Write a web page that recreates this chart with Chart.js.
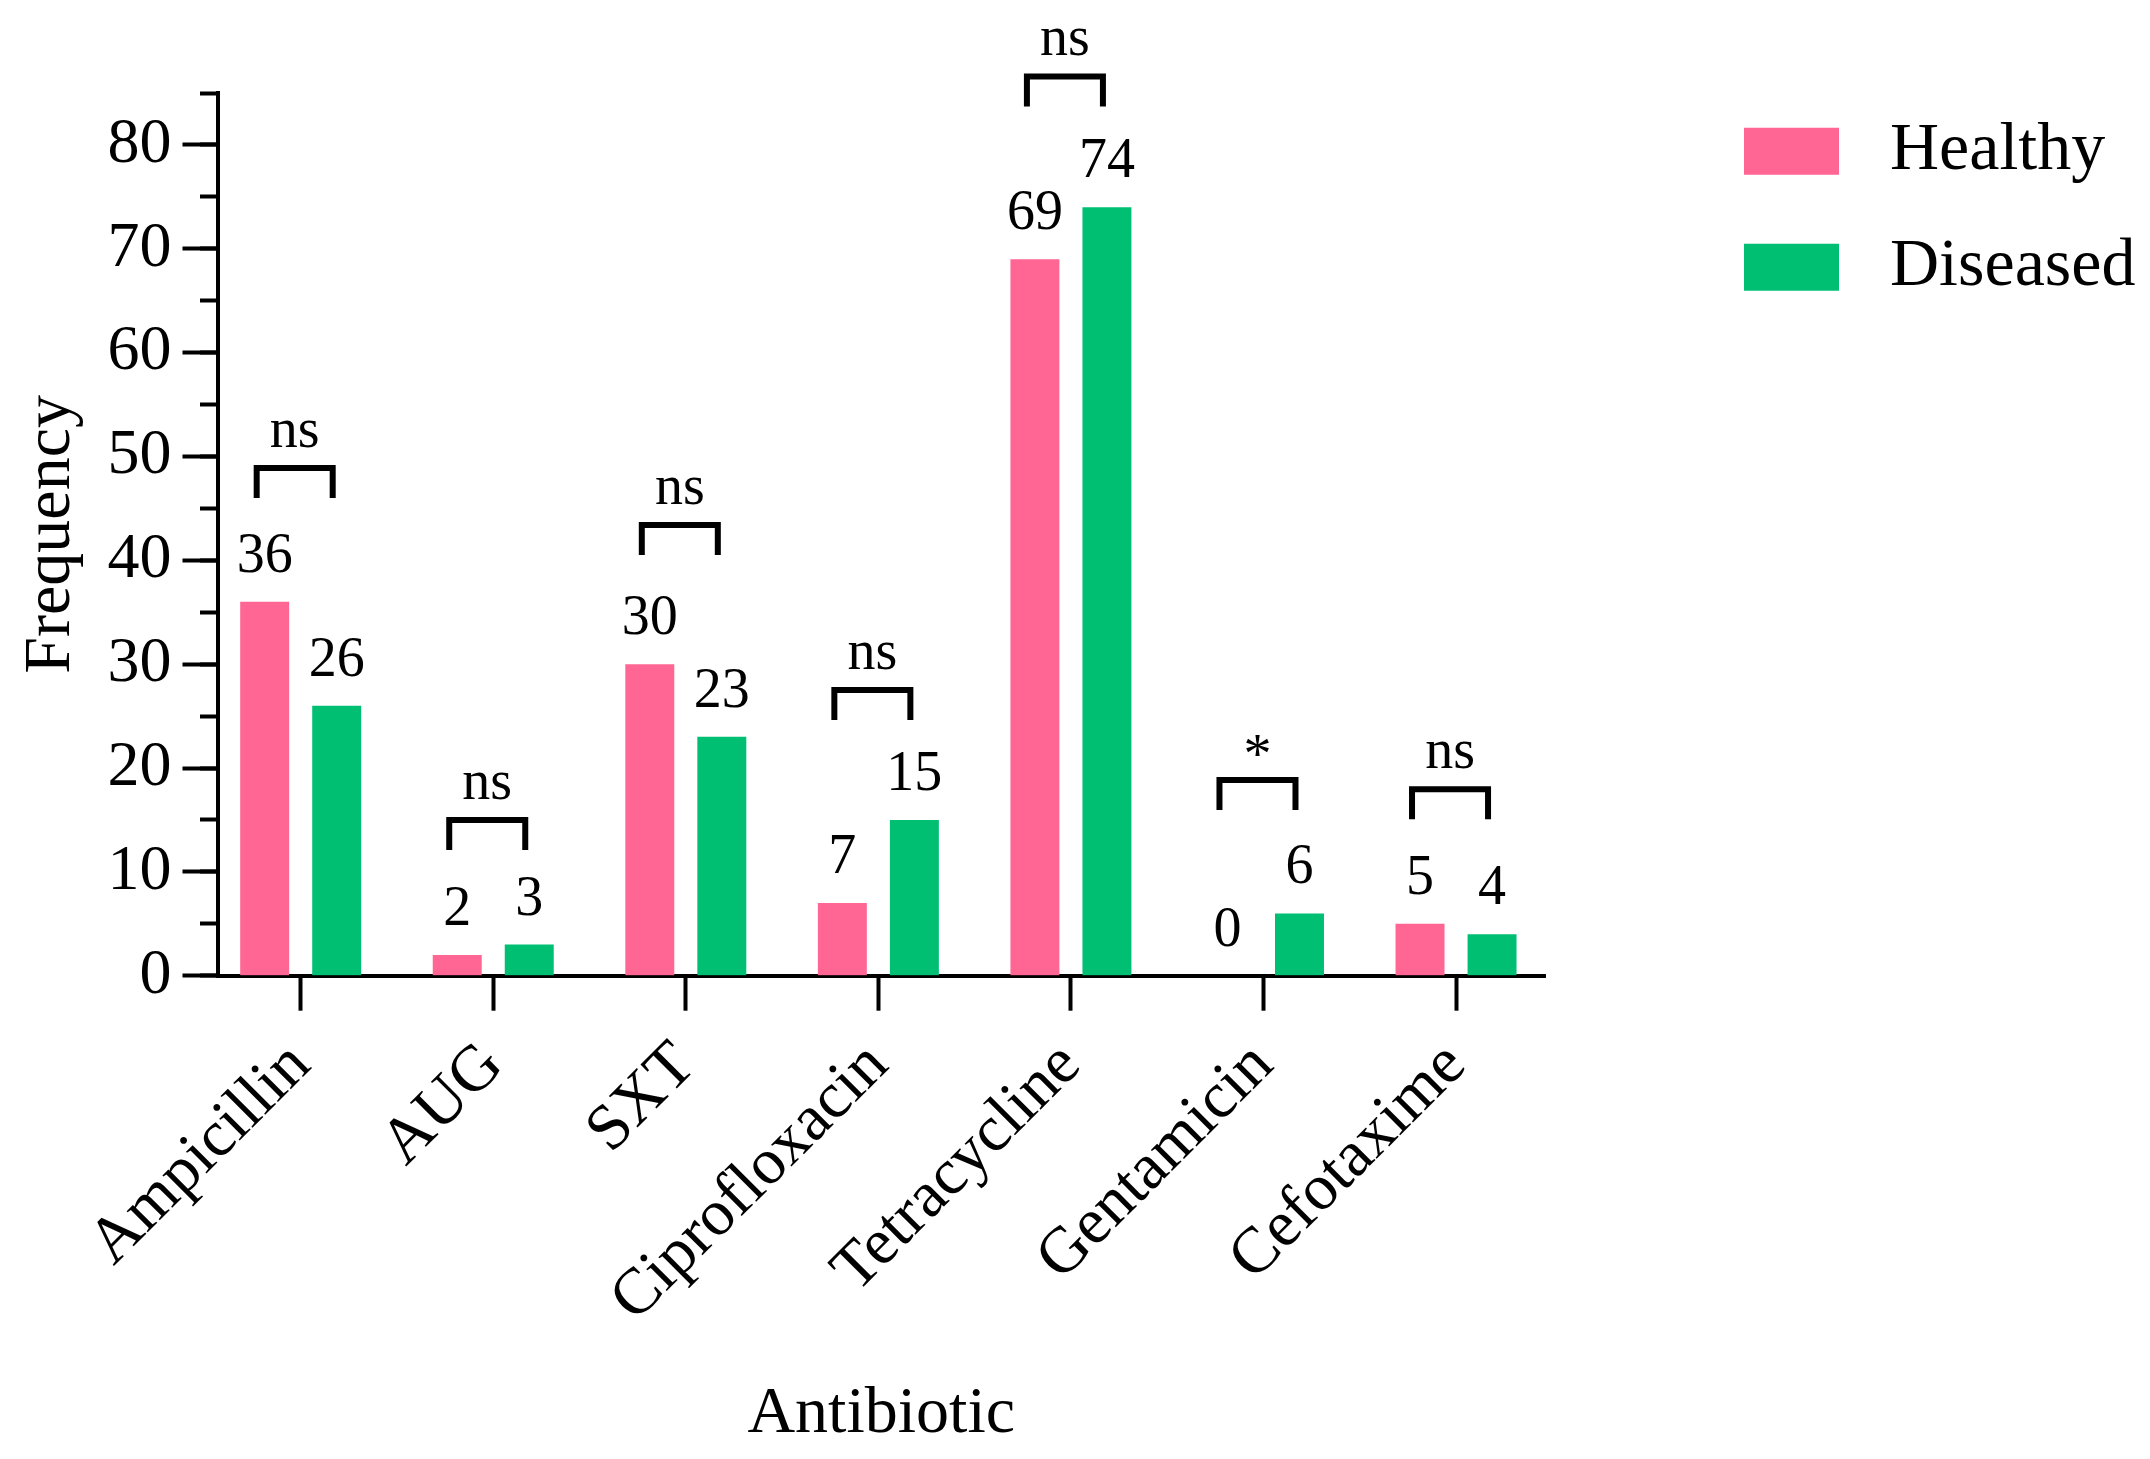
<!DOCTYPE html>
<html>
<head>
<meta charset="utf-8">
<script src="https://cdn.jsdelivr.net/npm/chart.js"></script>
<style>
html,body{margin:0;padding:0;background:#fff;}
#wrap{width:2150px;height:1459px;}
canvas{display:block;}
</style>
</head>
<body>
<div id="wrap"><canvas id="c" width="2150" height="1459"></canvas></div>
<script>
// ---- data ----
const categories = ['Ampicillin', 'AUG', 'SXT', 'Ciprofloxacin', 'Tetracycline', 'Gentamicin', 'Cefotaxime'];
const seriesNames = ['Healthy', 'Diseased'];
const healthy = [36, 2, 30, 7, 69, 0, 5];
const diseased = [26, 3, 23, 15, 74, 6, 4];
const sigLabels = ['ns', 'ns', 'ns', 'ns', 'ns', '*', 'ns'];
const bracketTops = [48.9, 15.0, 43.4, 27.5, 86.6, 18.85, 17.95];
const axisTitles = { x: 'Antibiotic', y: 'Frequency' };

// ---- style ----
const FONT = "'Liberation Serif', 'Times New Roman', serif";
const colors = ['#FF6694', '#00BF73'];
const W = 2150, H = 1459;
const AREA = { left: 217.5, right: 1545, top: 93, bottom: 975.7 };

Chart.defaults.color = '#000';
Chart.defaults.font.family = FONT;

const annotate = {
  id: 'annotate',
  afterDatasetsDraw(chart) {
    const ctx = chart.ctx;
    const ys = chart.scales.y;
    const metas = [chart.getDatasetMeta(0), chart.getDatasetMeta(1)];
    ctx.save();
    ctx.fillStyle = '#000';
    ctx.textAlign = 'center';
    ctx.textBaseline = 'alphabetic';
    ctx.font = '56px ' + FONT;
    metas.forEach((m, d) => {
      m.data.forEach((bar, i) => {
        const v = chart.data.datasets[d].data[i].y;
        ctx.fillText(String(v), bar.x, bar.y - 30);
      });
    });
    ctx.strokeStyle = '#000';
    ctx.lineWidth = 6;
    ctx.lineJoin = 'miter';
    ctx.lineCap = 'butt';
    categories.forEach((c, i) => {
      const x1 = metas[0].data[i].x - 8;
      const x2 = metas[1].data[i].x - 4;
      const yt = ys.getPixelForValue(bracketTops[i]);
      ctx.beginPath();
      ctx.moveTo(x1, yt + 30);
      ctx.lineTo(x1, yt);
      ctx.lineTo(x2, yt);
      ctx.lineTo(x2, yt + 30);
      ctx.stroke();
      const t = sigLabels[i];
      const mt = ctx.measureText(t);
      const cy = yt - 34;
      ctx.fillText(t, (x1 + x2) / 2, cy + (mt.actualBoundingBoxAscent - mt.actualBoundingBoxDescent) / 2);
    });
    ctx.restore();
  }
};

const legendPlace = {
  id: 'legendPlace',
  afterLayout(chart) {
    const l = chart.legend;
    if (!l) return;
    const w = l.width;
    l.left = 1696; l.right = l.left + w;
    l.top = 69.2; l.bottom = l.top + 500; l.height = 500;
  }
};

new Chart(document.getElementById('c'), {
  type: 'bar',
  data: {
    datasets: [
      { label: seriesNames[0], data: healthy.map((v, i) => ({ x: i, y: v })), backgroundColor: colors[0], hoverBackgroundColor: colors[0], borderWidth: 0 },
      { label: seriesNames[1], data: diseased.map((v, i) => ({ x: i, y: v })), backgroundColor: colors[1], hoverBackgroundColor: colors[1], borderWidth: 0 }
    ]
  },
  options: {
    responsive: false,
    animation: false,
    devicePixelRatio: 1,
    events: [],
    categoryPercentage: 0.748,
    barPercentage: 0.68,
    layout: { padding: { left: 0, top: AREA.top, right: W - AREA.right, bottom: 0 } },
    plugins: {
      tooltip: { enabled: false },
      legend: {
        display: true,
        position: 'chartArea',
        align: 'start',
        labels: {
          boxWidth: 95,
          boxHeight: 47,
          padding: 48,
          color: '#000',
          font: { size: 68, family: FONT },
          generateLabels(chart) {
            const items = Chart.defaults.plugins.legend.labels.generateLabels(chart);
            items.forEach(it => { it.text = ' ' + it.text; it.lineWidth = 0; });
            return items;
          }
        }
      }
    },
    scales: {
      x: {
        type: 'linear',
        min: -0.432,
        max: 6.462,
        offset: false,
        afterBuildTicks: (s) => { s.ticks = categories.map((c, i) => ({ value: i })); },
        afterFit: (s) => { s.height = H - AREA.bottom; },
        ticks: {
          autoSkip: false,
          minRotation: 45,
          maxRotation: 45,
          padding: 17,
          color: '#000',
          font: { size: 65, family: FONT },
          callback: (v) => categories[v]
        },
        grid: { offset: false, drawOnChartArea: false, tickLength: 35, tickWidth: 4, tickColor: '#000', color: '#000' },
        border: { display: true, color: '#000', width: 4 },
        title: { display: true, text: axisTitles.x, color: '#000', font: { size: 66, family: FONT }, padding: { top: 0, bottom: 5 } }
      },
      y: {
        type: 'linear',
        position: 'left',
        weight: 1,
        min: 0,
        max: 85,
        afterFit: (s) => { s.width = AREA.left; },
        ticks: { stepSize: 10, includeBounds: false, padding: 11, color: '#000', font: { size: 64, family: FONT } },
        grid: { drawOnChartArea: false, tickLength: 35, tickWidth: 4, tickColor: '#000', color: '#000' },
        border: { display: true, color: '#000', width: 4 },
        title: { display: true, text: axisTitles.y, color: '#000', font: { size: 66, family: FONT }, padding: { top: 12, bottom: 0 } }
      },
      yMinor: {
        type: 'linear',
        position: 'left',
        weight: 0,
        min: 0,
        max: 85,
        afterFit: (s) => { s.width = 0; },
        ticks: { stepSize: 5, display: false },
        grid: { drawOnChartArea: false, tickLength: 17.5, tickWidth: 4, tickColor: '#000', color: '#000' },
        border: { display: false }
      }
    }
  },
  plugins: [annotate, legendPlace]
});
</script>
</body>
</html>
